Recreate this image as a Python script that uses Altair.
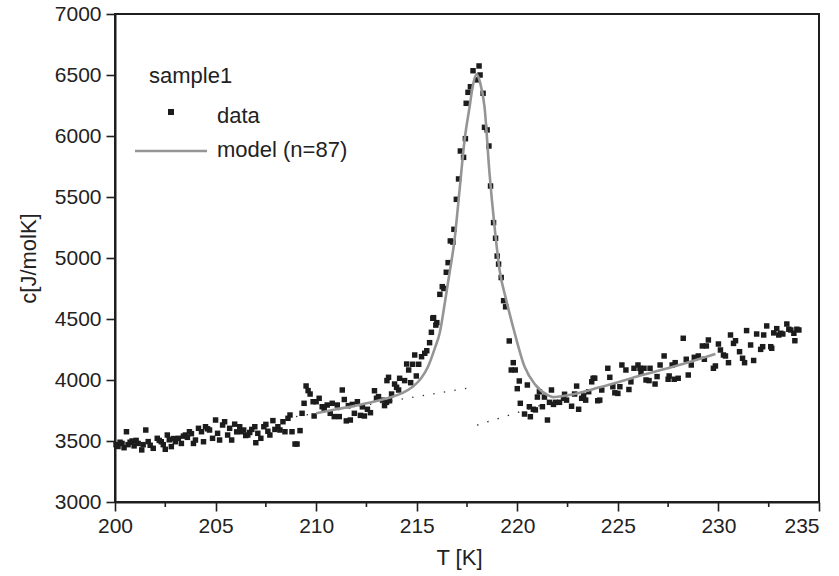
import altair as alt
import pandas as pd

# ---------------- data ----------------
T_data = [
    200.05, 200.15, 200.25, 200.35, 200.45, 200.57, 200.65, 200.75, 200.85, 200.95,
    201.05, 201.15, 201.33, 201.4, 201.53, 201.65, 201.75, 201.9, 202.1, 202.2,
    202.3, 202.4, 202.5, 202.6, 202.7, 202.8, 202.9, 203.0, 203.15, 203.3,
    203.4, 203.5, 203.6, 203.7, 203.8, 203.9, 204.0, 204.15, 204.3, 204.4,
    204.5, 204.6, 204.7, 204.85, 205.0, 205.1, 205.2, 205.35, 205.45,
    205.6, 205.7, 205.8, 205.95, 206.05, 206.2, 206.3, 206.4, 206.5, 206.6,
    206.7, 206.8, 206.95, 207.0, 207.1, 207.25, 207.4, 207.5, 207.6, 207.7,
    207.85, 207.95, 208.1, 208.2, 208.35, 208.45, 208.6, 208.7, 208.8, 208.95,
    209.05, 209.2, 209.3,
    209.4, 209.5, 209.6, 209.7, 209.85, 209.9, 210.0, 210.15, 210.3, 210.4,
    210.55, 210.7, 210.8, 210.9, 211.05, 211.15, 211.3, 211.4, 211.5, 211.6,
    211.7, 211.8, 211.9, 212.05, 212.2, 212.3, 212.4, 212.55, 212.7, 212.9,
    213.0, 213.1, 213.3, 213.4, 213.5,
    213.52, 213.6, 213.65, 213.75, 213.9, 214.0, 214.1, 214.15, 214.4, 214.5,
    214.6, 214.7, 214.8, 214.9, 214.98, 215.1, 215.24, 215.4, 215.5, 215.64,
    215.73, 215.8, 215.84, 215.95, 216.0, 216.15, 216.27, 216.35, 216.47, 216.56,
    216.67, 216.8, 216.85, 216.97, 217.08, 217.17, 217.33, 217.42, 217.46, 217.55,
    217.67, 217.8, 218.0, 218.1, 218.15,
    218.3, 218.37, 218.5, 218.59, 218.67, 218.82, 218.92, 219.0, 219.07, 219.2,
    219.32, 219.42, 219.6, 219.7, 219.8, 219.9, 220.0, 220.1, 220.15, 220.36,
    220.5, 220.6, 220.65, 220.8, 220.9, 221.0, 221.1, 221.25, 221.35, 221.5,
    221.6, 221.7, 221.8, 221.9, 222.1, 222.3, 222.35, 222.45, 222.7, 222.85,
    222.95, 223.05, 223.2, 223.3, 223.4, 223.55, 223.7, 223.77, 223.85, 224.0,
    224.1, 224.2, 224.5, 224.6, 224.75, 224.85, 225.0, 225.1, 225.2, 225.4,
    225.55, 225.65, 225.8, 226.0, 226.1, 226.15, 226.3, 226.4, 226.55, 226.6,
    226.85, 226.95, 227.1, 227.3, 227.5, 227.55, 227.7, 227.8, 227.85, 228.0,
    228.25, 228.4, 228.5, 228.65, 228.8, 229.0, 229.2, 229.3, 229.4, 229.5,
    229.75, 229.85, 230.0, 230.1, 230.25, 230.35, 230.5, 230.6, 230.75, 230.85,
    231.05, 231.2, 231.3, 231.4, 231.6, 231.75, 231.9, 232.1, 232.2, 232.25,
    232.4, 232.6, 232.65, 232.75, 232.9, 233.0, 233.1, 233.2, 233.4, 233.5,
    233.6, 233.75, 233.8, 233.9, 234.0,
]
c_data = [
    3470, 3455, 3490, 3480, 3445, 3576, 3470, 3490, 3500, 3460,
    3505, 3480, 3427, 3470, 3590, 3495, 3465, 3440, 3522, 3505,
    3494, 3470, 3432, 3549, 3510, 3454, 3520, 3494, 3522, 3480,
    3540, 3549, 3530, 3576, 3560, 3480, 3508, 3604, 3576, 3494,
    3617, 3600, 3590, 3522, 3672, 3563, 3508, 3631, 3658,
    3549, 3604, 3508, 3638, 3575, 3617, 3576, 3590, 3545, 3549,
    3570, 3595, 3617, 3486, 3563, 3522, 3617, 3636, 3580, 3549,
    3667, 3595, 3617, 3590, 3658, 3576, 3686, 3713, 3576, 3475,
    3475, 3585, 3727,
    3809, 3951, 3913, 3885, 3822, 3705, 3822, 3850, 3781, 3760,
    3795, 3727, 3809, 3700, 3795, 3700, 3918, 3840, 3665, 3790,
    3672, 3800, 3727, 3822, 3710, 3780, 3705, 3760, 3732, 3912,
    3850, 3864, 3835, 3790, 3817,
    3995, 4022, 3830, 3885, 3967, 3940, 3918, 4014, 3995, 4131,
    4082, 3978, 4129, 4205, 4033, 4129, 4191, 4219, 4240, 4306,
    4391, 4506, 4511, 4450, 4470, 4702, 4765, 4750, 4883, 4962,
    5140, 5130, 5235, 5481, 5648, 5877, 5825, 5978, 6268, 6358,
    6404, 6535, 6460, 6574, 6500,
    6350, 6071, 6050, 5918, 5590, 5290, 5162, 5016, 4950, 4840,
    4650, 4600, 4320, 4082, 4142, 4082, 3929, 3992, 3809, 3721,
    3959, 3781, 3699, 3760, 3755, 3860, 3904, 3781, 3860, 3672,
    3817, 3918, 3800, 3817, 3817, 3850, 3883, 3835, 3785, 3885,
    3950, 3760, 3850, 3870, 3835, 3904, 3985, 4014, 4015, 3830,
    3835, 3918, 4096, 4022, 3945, 3895, 3890, 3945, 4123, 4082,
    3922, 3985, 4096, 4123, 4096, 4060, 4096, 4000, 3995, 4096,
    3967, 4028, 4123, 4197, 4006, 4033, 4123, 4006, 4142, 4014,
    4342, 4170, 4041, 4123, 4186, 4197, 4279, 4170, 4279, 4328,
    4096, 4115, 4295, 4246, 4205, 4197, 4142, 4369, 4300, 4322,
    4232, 4178, 4142, 4405, 4287, 4160, 4377, 4251, 4273, 4369,
    4443, 4273, 4260, 4386, 4421, 4369, 4383, 4377, 4459, 4416,
    4410, 4383, 4322, 4416, 4410,
]

T_model = [210.0, 211.0, 211.7, 212.5, 213.3, 213.8, 214.3, 214.8, 215.2, 215.56,
           215.9, 216.14, 216.42, 216.63, 216.88, 217.13, 217.38, 217.63, 217.8, 217.97,
           218.15, 218.37, 218.62, 218.87, 219.12, 219.45, 219.87, 220.36, 220.9, 221.5,
           221.76, 222.5, 224.1, 226.0, 228.0, 229.85]
c_model = [3727, 3760, 3781, 3809, 3840, 3863, 3895, 3945, 4010, 4109,
           4260, 4383, 4656, 4875, 5148, 5557, 5967, 6240, 6420, 6505,
           6440, 6240, 5694, 5257, 4902, 4656, 4385, 4110, 3960, 3877,
           3860, 3875, 3940, 4030, 4120, 4213]

T_base1 = [209.0, 217.6]
c_base1 = [3700, 3935]
T_base2 = [218.0, 221.6]
c_base2 = [3630, 3815]

x_major = [200, 205, 210, 215, 220, 225, 230, 235]
x_minor = [202.5, 207.5, 212.5, 217.5, 222.5, 227.5, 232.5]
y_ticks = [3000, 3250, 3500, 3750, 4000, 4250, 4500, 4750, 5000, 5250, 5500, 5750,
           6000, 6250, 6500, 6750, 7000]

legend_title = ["sample1"]
legend_data = ["data"]
legend_model = ["model (n=87)"]

FONT = "Liberation Sans"
FS = 21

df = pd.DataFrame({"T": T_data, "c": c_data})
dm = pd.DataFrame({"T": T_model, "c": c_model})
db1 = pd.DataFrame({"T": T_base1, "c": c_base1})
db2 = pd.DataFrame({"T": T_base2, "c": c_base2})
dminor = pd.DataFrame({"T": x_minor})

xscale = alt.Scale(domain=[200, 235], nice=False, zero=False)
yscale = alt.Scale(domain=[3000, 7000], nice=False, zero=False)

xaxis = alt.Axis(
    values=x_major, title="T [K]", grid=False, format="d", tickSize=9,
    labelAlign={"condition": {"test": "datum.value === 235", "value": "right"}, "value": "center"},
    labelPadding=4, titleX=344, titleY=55, titleBaseline="middle",
)
yaxis = alt.Axis(
    values=y_ticks, title="c[J/molK]", grid=False, format="d", tickSize=9,
    labelExpr="datum.value % 500 === 0 ? datum.label : ''",
    labelPadding=5, titleX=-87, titleY=244, titleBaseline="middle",
)

pts = alt.Chart(df).mark_square(size=30, color="#1c1c1c", opacity=1).encode(
    x=alt.X("T:Q", scale=xscale, axis=xaxis),
    y=alt.Y("c:Q", scale=yscale, axis=yaxis),
)
minor = alt.Chart(dminor).mark_rule(color="#1e1e1e", strokeWidth=1.6).encode(
    x=alt.X("T:Q", scale=xscale), y=alt.value(488), y2=alt.value(493)
)
model = alt.Chart(dm).mark_line(color="#959595", strokeWidth=2.6, interpolate="monotone").encode(
    x=alt.X("T:Q", scale=xscale), y=alt.Y("c:Q", scale=yscale)
)
base1 = alt.Chart(db1).mark_line(color="#333333", strokeWidth=1.4, strokeDash=[1.4, 9.3]).encode(
    x=alt.X("T:Q", scale=xscale), y=alt.Y("c:Q", scale=yscale)
)
base2 = alt.Chart(db2).mark_line(color="#333333", strokeWidth=1.4, strokeDash=[1.4, 9.3]).encode(
    x=alt.X("T:Q", scale=xscale), y=alt.Y("c:Q", scale=yscale)
)

leg_t = alt.Chart(pd.DataFrame({"t": legend_title})).mark_text(
    font=FONT, fontSize=22, align="left", baseline="alphabetic", color="#222222"
).encode(x=alt.value(34), y=alt.value(69), text="t:N")
leg_d = alt.Chart(pd.DataFrame({"t": legend_data})).mark_text(
    font=FONT, fontSize=22, align="left", baseline="alphabetic", color="#222222"
).encode(x=alt.value(102), y=alt.value(109), text="t:N")
leg_m = alt.Chart(pd.DataFrame({"t": legend_model})).mark_text(
    font=FONT, fontSize=22, align="left", baseline="alphabetic", color="#222222"
).encode(x=alt.value(102), y=alt.value(143), text="t:N")
leg_sq = alt.Chart(pd.DataFrame({"t": legend_data})).mark_square(
    size=36, color="#1c1c1c", opacity=1
).encode(x=alt.value(56), y=alt.value(98))
leg_ln = alt.Chart(pd.DataFrame({"t": legend_model})).mark_rule(
    color="#959595", strokeWidth=2.6
).encode(x=alt.value(20), x2=alt.value(92), y=alt.value(137))

chart = alt.layer(pts, minor, base1, base2, model, leg_t, leg_d, leg_m, leg_sq, leg_ln).properties(
    width=704, height=488,
    autosize=alt.AutoSizeParams(type="none"),
    padding={"left": 115, "top": 14, "right": 20, "bottom": 74},
).configure_view(stroke="#1e1e1e", strokeWidth=2).configure_axis(
    domainColor="#1e1e1e", domainWidth=2, tickColor="#1e1e1e", tickWidth=1.6,
    labelFont=FONT, labelFontSize=FS, labelColor="#222222",
    titleFont=FONT, titleFontSize=22, titleColor="#222222", titleFontWeight="normal",
    labelFlush=False,
)

chart.save("out.html", embed_options={"renderer": "svg", "actions": False})
